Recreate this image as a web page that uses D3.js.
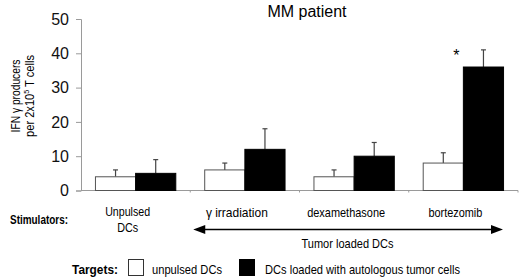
<!DOCTYPE html>
<html>
<head>
<meta charset="utf-8">
<script src="https://cdn.jsdelivr.net/npm/d3@7"></script>
<style>
  body { margin: 0; background: #fff; }
  svg { display: block; font-family: "Liberation Sans", Arial, sans-serif; }
</style>
</head>
<body>
<svg id="chart" width="520" height="279"></svg>
<script>
// data
const stimulators = ["Unpulsed DCs", "γ irradiation", "dexamethasone", "bortezomib"];
const targets = ["unpulsed DCs", "DCs loaded with autologous tumor cells"];
const unpulsedVals = [4, 6, 4, 8];
const unpulsedErr = [2, 2, 2, 3];
const loadedVals = [5, 12, 10, 36];
const loadedErr = [4, 6, 4, 5];
const yTicks = [0, 10, 20, 30, 40, 50];

const svg = d3.select("#chart");
const margin = {left: 81, right: 2, top: 19, bottom: 88.5};
const W = 520, H = 279;

const x = d3.scaleBand()
    .domain(stimulators)
    .range([margin.left, W - margin.right])
    .paddingInner(0)
    .paddingOuter(0);

const xSub = d3.scaleBand()
    .domain(["u", "l"])
    .range([0, x.bandwidth()])
    .paddingOuter(0.36)
    .paddingInner(0);

const y = d3.scaleLinear()
    .domain([0, 50])
    .range([H - margin.bottom, margin.top]);

const axisColor = "#9a9a9a";

// squeezed text helper - the original figure text is narrower than Arial
function label(xp, yp, str, size, width, anchor, bold) {
    return svg.append("text")
        .attr("x", xp).attr("y", yp)
        .attr("text-anchor", anchor || "start")
        .attr("font-size", size)
        .attr("font-weight", bold ? "bold" : null)
        .attr("textLength", width)
        .attr("lengthAdjust", "spacingAndGlyphs")
        .text(str);
}

// y axis
const yAxis = svg.append("g")
    .attr("transform", `translate(${margin.left},0)`)
    .call(d3.axisLeft(y).tickValues(yTicks).tickSize(5).tickPadding(7));
yAxis.select(".domain").attr("stroke", axisColor);
yAxis.selectAll(".tick line").attr("stroke", axisColor);
yAxis.selectAll(".tick text")
    .attr("font-size", 16)
    .attr("fill", "#111")
    .attr("font-family", "Liberation Sans, Arial, sans-serif");

// x axis line with small boundary ticks
svg.append("line")
    .attr("x1", margin.left).attr("x2", W - margin.right)
    .attr("y1", y(0)).attr("y2", y(0))
    .attr("stroke", axisColor);
stimulators.forEach(s => {
    const bx = x(s) + x.bandwidth();
    svg.append("line")
        .attr("x1", bx).attr("x2", bx)
        .attr("y1", y(0)).attr("y2", y(0) + 2)
        .attr("stroke", axisColor);
});

// bars
const rows = stimulators.map((s, i) => ({s, u: unpulsedVals[i], ue: unpulsedErr[i], l: loadedVals[i], le: loadedErr[i]}));

const groups = svg.append("g").selectAll("g")
    .data(rows)
    .join("g")
    .attr("transform", d => `translate(${x(d.s)},0)`);

function drawSeries(key, errKey, fill) {
    const cx = xSub(key) + xSub.bandwidth() / 2;
    groups.append("line")
        .attr("x1", cx).attr("x2", cx)
        .attr("y1", d => y(d[key]))
        .attr("y2", d => y(d[key] + d[errKey]))
        .attr("stroke", "#444").attr("stroke-width", 1.2);
    groups.append("line")
        .attr("x1", cx - 2.5).attr("x2", cx + 2.5)
        .attr("y1", d => y(d[key] + d[errKey]))
        .attr("y2", d => y(d[key] + d[errKey]))
        .attr("stroke", "#444").attr("stroke-width", 1.2);
    groups.append("rect")
        .attr("x", xSub(key))
        .attr("width", xSub.bandwidth())
        .attr("y", d => y(d[key]))
        .attr("height", d => y(0) - y(d[key]))
        .attr("fill", fill)
        .attr("stroke", fill === "#000" ? "#000" : "#555")
        .attr("stroke-width", 1);
}
drawSeries("u", "ue", "#fff");
drawSeries("l", "le", "#000");

// asterisk over bortezomib
const last = rows[3];
svg.append("text")
    .attr("x", x(last.s) + xSub("l") - 7)
    .attr("y", y(last.l + last.le) + 11)
    .attr("text-anchor", "middle")
    .attr("font-size", 16)
    .text("*");

// title
svg.append("text")
    .attr("x", 307).attr("y", 17)
    .attr("text-anchor", "middle")
    .attr("font-size", 16)
    .text("MM patient");

// y label, two rotated lines squeezed to the measured lengths
const yl = svg.append("g").attr("transform", "translate(20,96) rotate(-90)");
const yl1 = yl.append("text")
    .attr("text-anchor", "middle")
    .attr("font-size", 12.5)
    .text("IFN γ producers");
const yl2 = yl.append("text")
    .attr("text-anchor", "middle")
    .attr("font-size", 12.5)
    .attr("y", 14.5);
yl2.append("tspan").text("per 2x10");
yl2.append("tspan").attr("dy", -5).attr("font-size", 8).text("5");
yl2.append("tspan").attr("dy", 5).text(" T cells");
[[yl1, 73], [yl2, 82]].forEach(([t, w]) => {
    const k = w / t.node().getComputedTextLength();
    t.attr("transform", `scale(${k},1)`);
});

// stimulators row
label(10, 224, "Stimulators:", 13.5, 58, "start", true);

const stimWidths = [62, 78, 54];
stimulators.forEach((s, i) => {
    const cx = x(s) + x.bandwidth() / 2 - 8;
    if (i === 0) {
        label(cx, 216, "Unpulsed", 13.5, 45, "middle");
        label(cx, 231.5, "DCs", 13.5, 21, "middle");
    } else {
        label(cx, 216.5, s, 13.5, stimWidths[i - 1], "middle");
    }
});

// tumor loaded arrow
const ax1 = x(stimulators[1]) + 3, ax2 = W - 17, ay = 229.5;
svg.append("line")
    .attr("x1", ax1 + 10).attr("x2", ax2 - 10)
    .attr("y1", ay).attr("y2", ay)
    .attr("stroke", "#000").attr("stroke-width", 1.3);
svg.append("path")
    .attr("d", `M${ax1},${ay} L${ax1 + 12},${ay - 4.5} L${ax1 + 12},${ay + 4.5} Z`);
svg.append("path")
    .attr("d", `M${ax2},${ay} L${ax2 - 12},${ay - 4.5} L${ax2 - 12},${ay + 4.5} Z`);
label(347.5, 247.5, "Tumor loaded DCs", 13.5, 92, "middle");

// legend
label(72, 273.5, "Targets:", 13.5, 46, "start", true);
const legX = [128.5, 239.5];
const legTextX = [152, 265];
const legTextW = [70, 195];
targets.forEach((t, i) => {
    svg.append("rect")
        .attr("x", legX[i]).attr("y", 259.5)
        .attr("width", 15).attr("height", 16)
        .attr("fill", i === 0 ? "#fff" : "#000")
        .attr("stroke", i === 0 ? "#333" : "#000");
    label(legTextX[i], 273.5, t, 13.5, legTextW[i], "start");
});
</script>
</body>
</html>
